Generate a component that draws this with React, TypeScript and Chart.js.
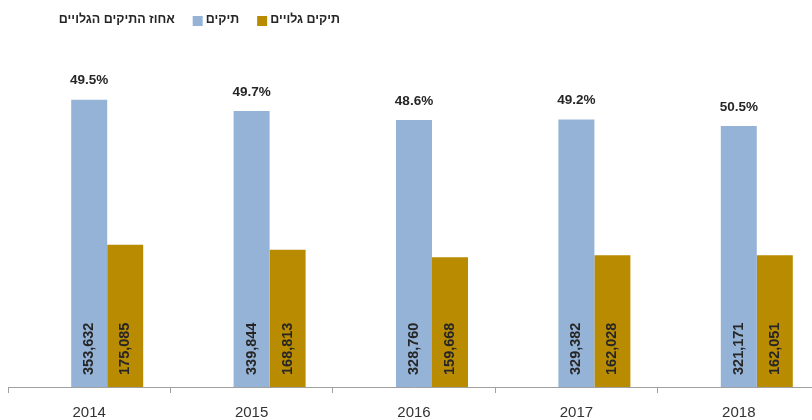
import React, { useEffect, useRef } from "react";
import { Chart, registerables } from "chart.js";

Chart.register(...registerables);

const years = ["2014", "2015", "2016", "2017", "2018"];
const totalCases = [353632, 339844, 328760, 329382, 321171];
const openCases = [175085, 168813, 159668, 162028, 162051];
const openPercent = [49.5, 49.7, 48.6, 49.2, 50.5];

const percentLabel = "אחוז התיקים הגלויים";
const totalLabel = "תיקים";
const openLabel = "תיקים גלויים";

const BLUE = "#95B3D7";
const GOLD = "#B98B00";
const TEXT = "#262626";
const FONT = '"Liberation Sans", Arial, sans-serif';

const labelPlugin = {
  id: "customLabels",
  afterDatasetsDraw(chart: any) {
    const ctx = chart.ctx as CanvasRenderingContext2D;
    const base = chart.scales.y.getPixelForValue(0);
    const totalMeta = chart.getDatasetMeta(1);
    const openMeta = chart.getDatasetMeta(2);
    ctx.save();
    ctx.fillStyle = TEXT;
    ctx.font = `bold 14.5px ${FONT}`;
    [
      [totalMeta, totalCases],
      [openMeta, openCases],
    ].forEach(([meta, data]: any) => {
      meta.data.forEach((bar: any, i: number) => {
        ctx.save();
        ctx.translate(bar.x, base - 12);
        ctx.rotate(-Math.PI / 2);
        ctx.textAlign = "left";
        ctx.textBaseline = "middle";
        ctx.fillText(data[i].toLocaleString("en-US"), 0, 0);
        ctx.restore();
      });
    });
    ctx.font = `bold 13.5px ${FONT}`;
    ctx.textAlign = "center";
    ctx.textBaseline = "middle";
    totalMeta.data.forEach((bar: any, i: number) => {
      ctx.fillText(openPercent[i].toFixed(1) + "%", bar.x, bar.y - 19);
    });

    // legend (RTL, reversed dataset order)
    ctx.font = `bold 12.5px ${FONT}`;
    ctx.textBaseline = "alphabetic";
    ctx.textAlign = "left";
    let x = 332;
    const ds = chart.data.datasets.slice().reverse();
    ds.forEach((d: any) => {
      const w = ctx.measureText(d.label).width;
      const tx = x - w;
      ctx.fillStyle = TEXT;
      ctx.fillText(d.label, tx, 23);
      if (d.legendColor) {
        ctx.fillStyle = d.legendColor;
        ctx.fillRect(tx - 13, 16, 10, 10);
      }
      x = tx - 13 - 18;
    });
    ctx.restore();
  },
};

export default function App() {
  const ref = useRef<HTMLCanvasElement | null>(null);
  useEffect(() => {
    if (!ref.current) return;
    const chart = new Chart(ref.current, {
      type: "bar",
      data: {
        labels: years,
        datasets: [
          {
            label: percentLabel,
            data: openPercent,
            yAxisID: "y2",
            backgroundColor: "rgba(0,0,0,0)",
            legendColor: null,
          } as any,
          {
            label: totalLabel,
            data: totalCases,
            yAxisID: "y",
            backgroundColor: BLUE,
            legendColor: BLUE,
          } as any,
          {
            label: openLabel,
            data: openCases,
            yAxisID: "y",
            backgroundColor: GOLD,
            legendColor: GOLD,
          } as any,
        ],
      },
      options: {
        animation: false,
        responsive: true,
        maintainAspectRatio: false,
        datasets: { bar: { categoryPercentage: 0.665, barPercentage: 1 } },
        layout: { padding: { top: 62, bottom: 0, left: 0, right: 0 } },
        plugins: { legend: { display: false }, tooltip: { enabled: false } },
        scales: {
          x: {
            grid: {
              display: true,
              drawOnChartArea: false,
              drawTicks: true,
              tickLength: 6,
              color: "#A0A0A0",
              offset: true,
            },
            border: { display: true, color: "#A0A0A0" },
            ticks: {
              color: "#333333",
              font: { family: FONT, size: 15 },
              padding: 11,
            },
          },
          y: { display: false, min: 0, max: 400000 },
          y2: { display: false, min: 0, max: 100 },
        },
      },
      plugins: [labelPlugin],
    });
    return () => chart.destroy();
  }, []);
  return (
    <div
      style={{
        position: "fixed",
        left: 0,
        top: 0,
        width: 812,
        height: 420,
        overflow: "hidden",
        background: "#fff",
      }}
    >
      <div style={{ position: "absolute", left: 8, top: 0, width: 812, height: 433 }}>
        <canvas ref={ref} />
      </div>
    </div>
  );
}
